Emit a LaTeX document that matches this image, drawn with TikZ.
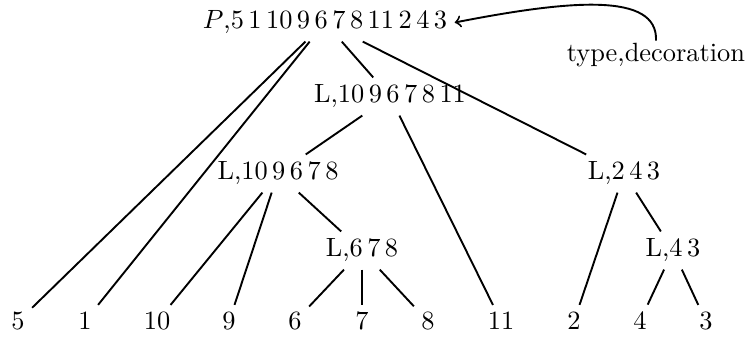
\documentclass[tikz,border=0pt]{standalone}
\newcommand\dgap{\hspace{1.7pt}}
\begin{document}
\begin{tikzpicture}[x=0.379pt,y=-0.379pt,
  font=\fontsize{10}{12}\selectfont,
  lbl/.style={inner sep=2.65pt, anchor=base},
  edge/.style={line width=0.72pt}]
\useasboundingbox (0,0) rectangle (745,338);
% internal nodes
\node[lbl] (root) at (325,29) {$P$,5\dgap 1\dgap 10\dgap 9\dgap 6\dgap 7\dgap 8\dgap 11\dgap 2\dgap 4\dgap 3};
\node[lbl] (a)    at (390,103) {L,10\dgap 9\dgap 6\dgap 7\dgap 8\dgap 11};
\node[lbl] (b)    at (278,180) {L,10\dgap 9\dgap 6\dgap 7\dgap 8};
\node[lbl] (c)    at (362,257) {L,6\dgap 7\dgap 8};
\node[lbl] (d)    at (624,180) {L,2\dgap 4\dgap 3};
\node[lbl] (e)    at (673,257) {L,4\dgap 3};
% leaves
\node[lbl] (l5)  at (18,330)  {5};
\node[lbl] (l1)  at (85,330)  {1};
\node[lbl] (l10) at (157,330) {10};
\node[lbl] (l9)  at (229,330) {9};
\node[lbl] (l6)  at (295,330) {6};
\node[lbl] (l7)  at (362,330) {7};
\node[lbl] (l8)  at (428,330) {8};
\node[lbl] (l11) at (501,330) {11};
\node[lbl] (l2)  at (574,330) {2};
\node[lbl] (l4)  at (640,330) {4};
\node[lbl] (l3)  at (706,330) {3};
% annotation
\node[anchor=base, inner sep=1pt] (td) at (656,62) {type,decoration};
% edges
\draw[edge] (root) -- (l5);
\draw[edge] (root) -- (l1);
\draw[edge] (root) -- (a);
\draw[edge] (root) -- (d);
\draw[edge] (a) -- (b);
\draw[edge] (a) -- (l11);
\draw[edge] (b) -- (l10);
\draw[edge] (b) -- (l9);
\draw[edge] (b) -- (c);
\draw[edge] (c) -- (l6);
\draw[edge] (c) -- (l7);
\draw[edge] (c) -- (l8);
\draw[edge] (d) -- (l2);
\draw[edge] (d) -- (e);
\draw[edge] (e) -- (l4);
\draw[edge] (e) -- (l3);
\draw[edge,->] (td.north) .. controls (658,-8) and (570,0) .. (root.east);
\end{tikzpicture}
\end{document}
